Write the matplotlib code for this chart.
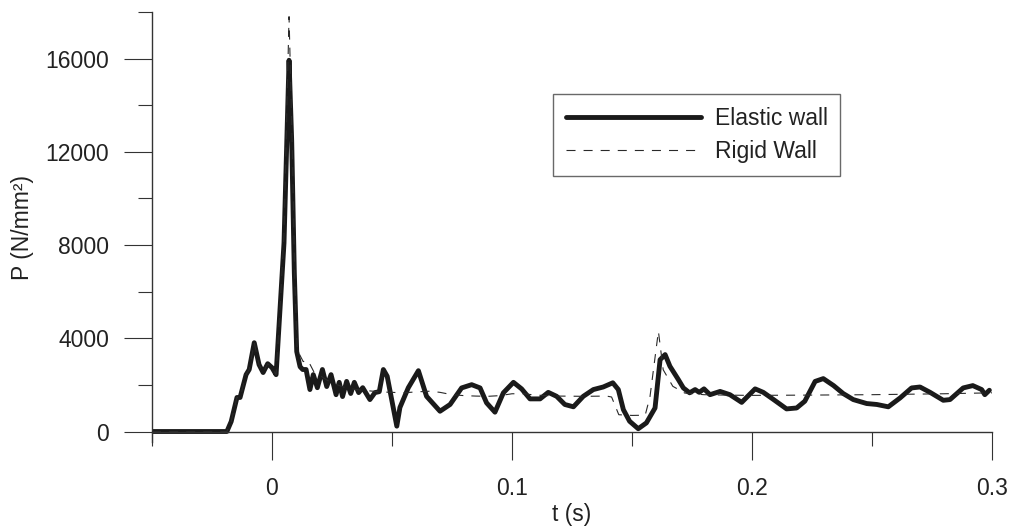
import matplotlib
matplotlib.use("Agg")
import matplotlib.pyplot as plt
from matplotlib.ticker import FixedLocator, FixedFormatter

plt.rcParams['font.family'] = ['Liberation Sans', 'DejaVu Sans']
plt.rcParams['lines.scale_dashes'] = False

# Elastic wall
t_elastic = [-0.05, -0.0188, -0.017, -0.0146, -0.0133, -0.0108, -0.0095, -0.0074, -0.0054,
             -0.0037, -0.0018, 0.0, 0.0017, 0.003, 0.005, 0.0071, 0.0082, 0.0093, 0.0103,
             0.0117, 0.0128, 0.0142, 0.0158, 0.0172, 0.0189, 0.021, 0.0228, 0.0246, 0.0267,
             0.028, 0.0294, 0.0311, 0.0328, 0.0343, 0.0361, 0.0378, 0.0408, 0.0429, 0.0447,
             0.0464, 0.048, 0.052, 0.0533, 0.0568, 0.061, 0.0644, 0.07, 0.0742, 0.079,
             0.0832, 0.0867, 0.0894, 0.0929, 0.0964, 0.1006, 0.104, 0.1075, 0.1117, 0.1151,
             0.1186, 0.122, 0.1256, 0.1297, 0.1339, 0.138, 0.142, 0.1443, 0.1464, 0.149,
             0.1526, 0.156, 0.1596, 0.1617, 0.1638, 0.1658, 0.1693, 0.1714, 0.174, 0.1763,
             0.178, 0.18, 0.1825, 0.1867, 0.1908, 0.1957, 0.2013, 0.2047, 0.209, 0.2144,
             0.2186, 0.222, 0.2263, 0.2297, 0.234, 0.238, 0.2422, 0.2478, 0.252, 0.2568,
             0.2617, 0.2665, 0.27, 0.2742, 0.2797, 0.2825, 0.288, 0.292, 0.2957, 0.297, 0.2989]
p_elastic = [0, 0, 430, 1460, 1460, 2440, 2660, 3810, 2870,
             2530, 2910, 2740, 2440, 4670, 8090, 15930, 12500, 6810, 3430,
             2780, 2660, 2660, 1800, 2440, 1880, 2660, 1930, 2440, 1580,
             2110, 1500, 2150, 1630, 2110, 1670, 1880, 1370, 1670, 1710,
             2660, 2370, 230, 1030, 1880, 2610, 1510, 870, 1160, 1870,
             2010, 1870, 1230, 830, 1660, 2110, 1830, 1400, 1400, 1680,
             1510, 1160, 1060, 1510, 1800, 1910, 2090, 1800, 940, 440,
             120, 370, 1010, 3080, 3300, 2800, 2230, 1870, 1660, 1800,
             1680, 1830, 1580, 1720, 1580, 1250, 1830, 1680, 1370, 970,
             1010, 1300, 2150, 2270, 1970, 1630, 1370, 1200, 1160, 1060,
             1440, 1870, 1910, 1680, 1340, 1370, 1870, 1970, 1800, 1580, 1770]

# Rigid wall
t_rigid = [-0.05, -0.0188, -0.017, -0.0146, -0.0133, -0.0108, -0.0095, -0.0074, -0.0054,
           -0.0037, -0.0018, 0.0, 0.0017, 0.003, 0.005, 0.0071, 0.0085, 0.0095, 0.0105,
           0.013, 0.015, 0.0175, 0.02, 0.023, 0.026, 0.03, 0.035, 0.04, 0.045, 0.05,
           0.055, 0.06, 0.066, 0.07, 0.075, 0.08, 0.085, 0.09, 0.095, 0.1, 0.105, 0.11,
           0.115, 0.12, 0.13, 0.1395, 0.1415, 0.1445, 0.15, 0.1555, 0.1575, 0.161, 0.163,
           0.167, 0.172, 0.18, 0.19, 0.2, 0.22, 0.25, 0.28, 0.3]
p_rigid = [0, 0, 430, 1460, 1460, 2440, 2660, 3810, 2870,
           2530, 2910, 2740, 2440, 4670, 8500, 17800, 12000, 6500, 3500,
           3000, 3050, 2550, 2400, 2200, 2050, 1900, 1800, 1750, 1700, 1680,
           1660, 1700, 1730, 1680, 1580, 1540, 1520, 1510, 1540, 1620, 1620, 1560,
           1540, 1520, 1510, 1520, 1480, 720, 690, 700, 1500, 4300, 2650,
           1940, 1650, 1580, 1560, 1550, 1560, 1580, 1620, 1660]

x_major = [0, 0.1, 0.2, 0.3]
x_major_labels = ['0', '0.1', '0.2', '0.3']
x_minor = [-0.05, 0.05, 0.15, 0.25]
y_major = [0, 4000, 8000, 12000, 16000]
y_major_labels = ['0', '4000', '8000', '12000', '16000']
y_minor = [2000, 6000, 10000, 14000, 18000]

W, H = 1011, 528
fig = plt.figure(figsize=(W / 100, H / 100), dpi=100)
left, right, top, bottom = 152, 992, 12, 442
ax = fig.add_axes([left / W, 1 - bottom / H, (right - left) / W, (bottom - top) / H])

txt = '#222222'
axc = '#333333'
fs = 16.5

ax.plot(t_rigid, p_rigid, color='#2a2a2a', lw=0.8, dashes=(6.5, 5.8), label='Rigid Wall', zorder=3)
ax.plot(t_elastic, p_elastic, color='#1a1a1a', lw=3.5, solid_joinstyle='round',
        solid_capstyle='round', label='Elastic wall', zorder=2)

ax.set_xlim(-0.05, 0.3)
ax.set_ylim(-450, 18000)

for s in ['top', 'right']:
    ax.spines[s].set_visible(False)
ax.spines['bottom'].set_position(('data', 0))
ax.spines['bottom'].set_color(axc)
ax.spines['left'].set_color(axc)
ax.spines['bottom'].set_linewidth(1.0)
ax.spines['left'].set_linewidth(1.0)

ax.xaxis.set_major_locator(FixedLocator(x_major))
ax.xaxis.set_major_formatter(FixedFormatter(x_major_labels))
ax.xaxis.set_minor_locator(FixedLocator(x_minor))
ax.yaxis.set_major_locator(FixedLocator(y_major))
ax.yaxis.set_major_formatter(FixedFormatter(y_major_labels))
ax.yaxis.set_minor_locator(FixedLocator(y_minor))

ax.tick_params(which='major', direction='out', length=20, width=0.8, color=axc,
               labelsize=fs, labelcolor=txt)
ax.tick_params(which='minor', direction='out', length=10, width=0.8, color=axc)
ax.tick_params(axis='x', which='major', pad=13)
ax.tick_params(axis='y', which='major', pad=11)

fig.text(23 / W, 1 - 227 / H, 'P (N/mm²)', rotation=90, ha='center', va='center',
         fontsize=fs, color=txt)
fig.text(572 / W, 1 - 515 / H, 't (s)', ha='center', va='center', fontsize=fs, color=txt)

handles, labels = ax.get_legend_handles_labels()
leg = ax.legend(handles[::-1], labels[::-1], loc='upper left',
                bbox_to_anchor=(553 / W, 1 - 94 / H), bbox_transform=fig.transFigure,
                fontsize=fs, frameon=True, fancybox=False, handlelength=5.9,
                handletextpad=0.6, borderpad=0.55, labelspacing=0.45, borderaxespad=0)
leg.get_frame().set_edgecolor('#444444')
leg.get_frame().set_linewidth(1.0)
for t in leg.get_texts():
    t.set_color(txt)

fig.savefig('out.png', dpi=100)
